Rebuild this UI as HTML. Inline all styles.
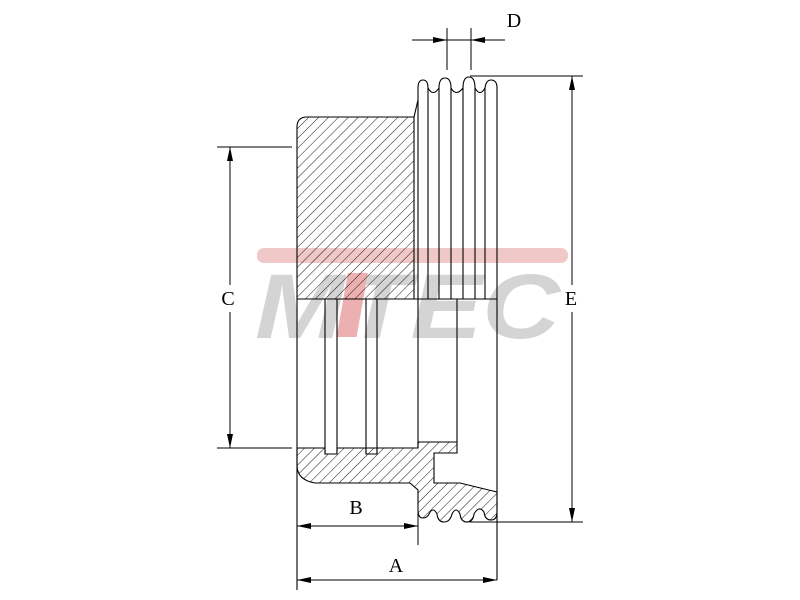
<!DOCTYPE html>
<html><head><meta charset="utf-8"><style>html,body{margin:0;padding:0;background:#fff}svg{display:block}</style></head>
<body>
<svg width="800" height="600" viewBox="0 0 800 600" xmlns="http://www.w3.org/2000/svg">
<defs>
<pattern id="h" patternUnits="userSpaceOnUse" width="7" height="7" patternTransform="rotate(45)">
<line x1="0" y1="0" x2="0" y2="7" stroke="#000" stroke-width="0.9"/>
</pattern>
</defs>
<!-- watermark -->
<rect x="257" y="248" width="311" height="15" rx="7" fill="#f0c8c8"/>
<text x="255" y="338" font-family="Liberation Sans, sans-serif" font-weight="bold" font-style="italic" font-size="92" fill="#d4d4d4" textLength="305" lengthAdjust="spacingAndGlyphs">MTEC</text>
<rect x="346" y="273" width="20" height="64" fill="#ecb0b0" transform="skewX(-10) translate(50,0)"/>

<g fill="none" stroke="#000" stroke-width="1.1">
<!-- top hatched block -->
<path d="M297,127 Q297,117 307,117 L414,117 L414,299 L297,299 Z" fill="url(#h)"/>
<!-- pulley ribs top -->
<path d="M418,299 L418,88 Q418,80 423,80 Q428,80 428,88 Q433,97 439,88 Q439,78 445,78 Q451,78 451,88 Q456,97 463,88 Q463,77 469,77 Q475,77 475,88 Q480,97 485,88 Q486,80 491,80 Q497,80 497,88 L497,580"/>
<line x1="414" y1="117" x2="418" y2="100"/>
<line x1="428" y1="88" x2="428" y2="299"/>
<line x1="439" y1="88" x2="439" y2="299"/>
<line x1="451" y1="88" x2="451" y2="299"/>
<line x1="463" y1="88" x2="463" y2="299"/>
<line x1="475" y1="88" x2="475" y2="299"/>
<line x1="485" y1="88" x2="485" y2="299"/>
<line x1="297" y1="299" x2="497" y2="299"/>
<!-- body lower -->
<line x1="297" y1="299" x2="297" y2="590"/>
<line x1="418" y1="299" x2="418" y2="448"/>
<line x1="457" y1="299" x2="457" y2="442"/>
<path d="M325,299 L325,454 L337,454 L337,299"/>
<path d="M366,299 L366,454 L377,454 L377,299"/>
<!-- bottom hatched -->
<path d="M297,448 L325,448 L325,454 L337,454 L337,448 L366,448 L377,448 L418,448 L418,442 L457,442 L457,453 L434,453 L434,483 L460,483 L497,492 L497,512 Q497,520 491,520 Q485,520 484,512 Q479,505 474,514 Q473,522 467,522 Q461,522 460,514 Q456,506 452,514 Q450,522 444,522 Q438,522 437,514 Q433,506 429,514 Q427,518 423,518 Q418,518 418,510 L418,490 L410,483 L315,483 Q297,480 297,465 Z" fill="url(#h)"/>
<line x1="377" y1="454" x2="377" y2="448"/>
<line x1="366" y1="454" x2="366" y2="448"/>
<line x1="418" y1="490" x2="418" y2="545" stroke-width="1"/>
</g>
<!-- dimensions -->
<g stroke="#000" stroke-width="1" fill="none">
<line x1="217" y1="147" x2="292" y2="147"/>
<line x1="217" y1="448" x2="292" y2="448"/>
<line x1="230" y1="147" x2="230" y2="285"/>
<line x1="230" y1="312" x2="230" y2="448"/>
<line x1="470" y1="76" x2="583" y2="76"/>
<line x1="470" y1="522" x2="583" y2="522"/>
<line x1="572" y1="76" x2="572" y2="285"/>
<line x1="572" y1="312" x2="572" y2="522"/>
<line x1="297" y1="526" x2="418" y2="526"/>
<line x1="297" y1="580" x2="497" y2="580"/>
<line x1="447" y1="28" x2="447" y2="70"/>
<line x1="471" y1="28" x2="471" y2="70"/>
<line x1="412" y1="40" x2="505" y2="40"/>
</g>
<g fill="#000">
<path d="M230,147 l-3,14 l6,0 z"/><path d="M230,448 l-3,-14 l6,0 z"/>
<path d="M572,76 l-3,14 l6,0 z"/><path d="M572,522 l-3,-14 l6,0 z"/>
<path d="M297,526 l14,-3 l0,6 z"/><path d="M418,526 l-14,-3 l0,6 z"/>
<path d="M297,580 l14,-3 l0,6 z"/><path d="M497,580 l-14,-3 l0,6 z"/>
<path d="M447,40 l-14,-3 l0,6 z"/><path d="M471,40 l14,-3 l0,6 z"/>
</g>
<g font-family="Liberation Serif, serif" font-size="20" fill="#000" text-anchor="middle">
<text x="228" y="305">C</text>
<text x="571" y="305">E</text>
<text x="514" y="27">D</text>
<text x="356" y="514">B</text>
<text x="396" y="572">A</text>
</g>
</svg>
</body></html>
